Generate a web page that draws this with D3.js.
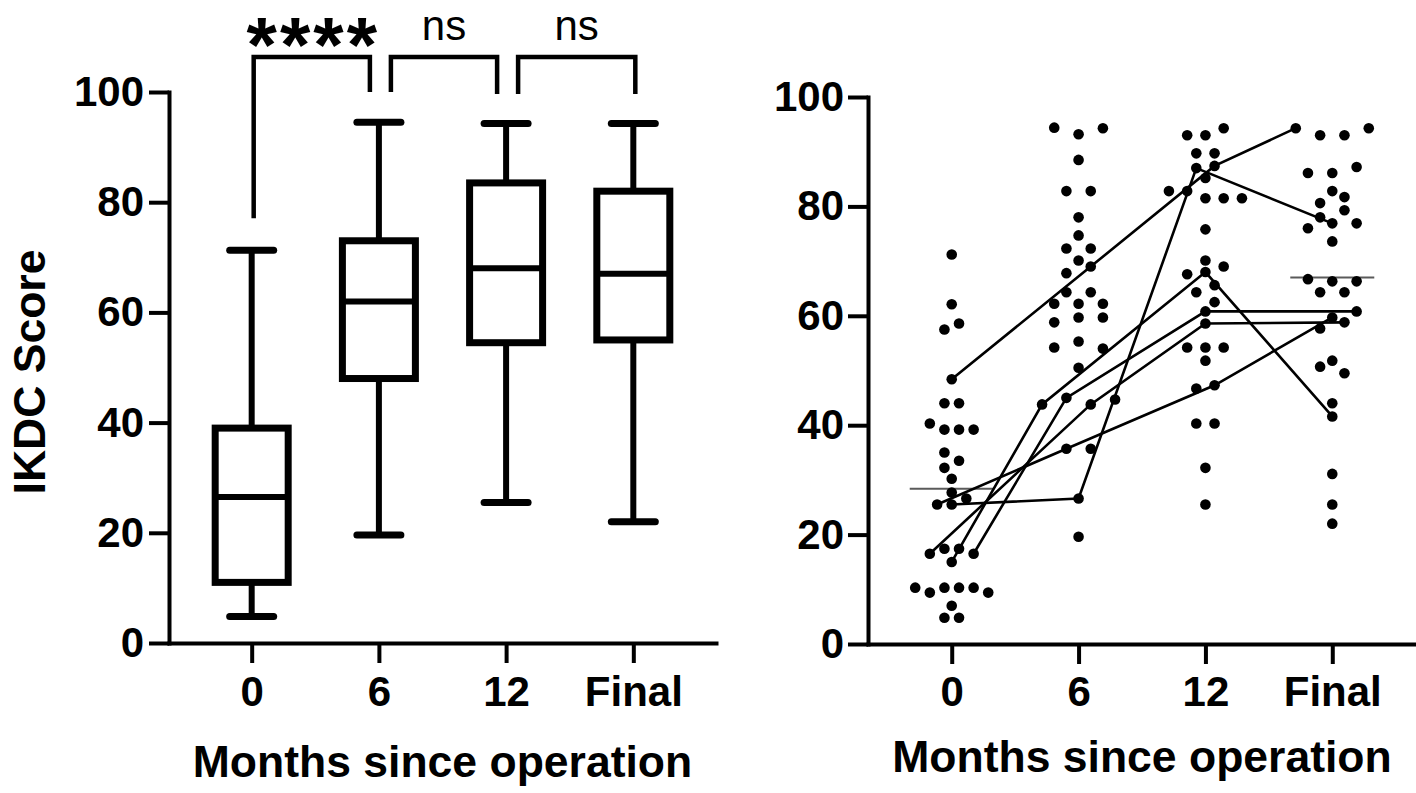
<!DOCTYPE html>
<html><head><meta charset="utf-8">
<script src="https://cdn.jsdelivr.net/npm/d3@7"></script>
<style>
body{margin:0;background:#fff}
svg{display:block;background:#fff}
text{font-family:"Liberation Sans",Arial,Helvetica,sans-serif;fill:#000}
</style>
</head><body>
<svg id="chart" width="1416" height="793"></svg>
<script>
// ---------- data ----------
const categories = ["0", "6", "12", "Final"];
const yTicks = [0, 20, 40, 60, 80, 100];
const xTitle = "Months since operation";
const yTitle = "IKDC Score";

// box plot (left panel): min, quartiles, median, max per category
const boxMin = [4.8, 19.6, 25.5, 22];
const boxQ1 = [11, 48, 54.5, 55];
const boxMedian = [26.5, 62, 68, 67];
const boxQ3 = [39, 73, 83.5, 82];
const boxMax = [71.3, 94.5, 94.3, 94.3];

// significance comparisons
const sigPairs = [["0", "6"], ["6", "12"], ["12", "Final"]];
const sigLabels = ["****", "ns", "ns"];

// individual scores (right panel), one list per time point
const scores0 = [71.2, 62.1, 57.5, 58.6, 48.4, 44, 44, 40.3, 39.2, 39.2, 39.2, 35, 32.2, 33.5, 30.2, 27.7,
  25.5, 25.5, 26.6, 16.5, 17.4, 17.4, 16.5, 15, 10.3, 9.4, 10.3, 10.3, 10.3, 9.4, 7, 4.8, 4.8];
const scores6 = [94.4, 93.2, 94.3, 88.5, 82.8, 82.8, 78, 74.7, 72.3, 72.3, 70.1, 67.8, 69, 64.3, 64.3, 62.2,
  62.2, 62.2, 58.8, 59.7, 59.7, 54.2, 55.3, 54, 50.5, 43.8, 45, 43.8, 44.7, 35.7, 35.7, 26.6, 19.6];
const scores12 = [93, 93, 94.3, 89.7, 89.7, 87, 87.4, 85.2, 82.8, 82.8, 81.5, 81.5, 81.5, 75.8, 70.1, 67.6,
  68, 69, 64.3, 65.6, 62.5, 60.8, 58.6, 54.2, 54.2, 54.2, 51.8, 46.7, 47.3, 40.3, 40.3, 32.2, 25.5];
const scoresFinal = [94.3, 93, 93, 94.3, 86.1, 86.1, 87.2, 82.8, 80.6, 81.7, 78, 79.3, 76, 76.9, 76.9, 73.6,
  66.7, 66.3, 66.3, 64.3, 64.3, 59.7, 60.8, 57.7, 58.8, 51.8, 50.7, 49.5, 44, 41.6, 31.1, 25.5, 22];

// patients followed across all time points (connected lines)
const patientA = [48.4, 69, 87.4, 94.3];
const patientB = [25.5, 35.7, 47.3, 59.7];
const patientC = [25.5, 26.6, 87, 76.9];
const patientD = [15, 43.8, 68, 41.6];
const patientE = [16.5, 43.8, 58.6, 58.8];
const patientF = [16.5, 45, 60.8, 60.8];

// horizontal reference lines in right panel
const refLineCats = ["0", "Final"];
const refLineValues = [28.4, 67];

// ---------- drawing ----------
const svg = d3.select("#chart");
const FONT_TICK = 42, FONT_TITLE = 44.5;

function styleAxis(g) {
  g.select(".domain").attr("stroke", "#000").attr("stroke-width", 4).attr("stroke-linecap", "square");
  g.selectAll(".tick line").attr("stroke", "#000").attr("stroke-width", 4);
  g.selectAll(".tick text").attr("font-size", FONT_TICK).attr("font-weight", "bold")
    .attr("font-family", "'Liberation Sans',Arial,sans-serif").attr("fill", "#000");
}

// ===== Left panel: box plot =====
const yL = d3.scaleLinear().domain([0, 100]).range([643, 92]);
const xL = d3.scalePoint().domain(categories).range([169, 716]).padding(0.65);

const left = svg.append("g");
left.append("g").attr("transform", "translate(169,0)")
  .call(d3.axisLeft(yL).tickValues(yTicks).tickSize(20).tickPadding(5).tickSizeOuter(0))
  .call(styleAxis);
left.append("g").attr("transform", "translate(0,643)")
  .call(d3.axisBottom(xL).tickSize(20).tickPadding(13).tickSizeOuter(0))
  .call(styleAxis);

const boxW = 73, capW = 44;
categories.forEach((c, i) => {
  const cx = xL(c);
  const g = left.append("g").attr("stroke", "#000").attr("fill", "none");
  g.append("line").attr("x1", cx).attr("x2", cx).attr("y1", yL(boxMax[i])).attr("y2", yL(boxQ3[i])).attr("stroke-width", 6);
  g.append("line").attr("x1", cx).attr("x2", cx).attr("y1", yL(boxQ1[i])).attr("y2", yL(boxMin[i])).attr("stroke-width", 6);
  [boxMax[i], boxMin[i]].forEach(v => {
    g.append("line").attr("x1", cx - capW / 2).attr("x2", cx + capW / 2).attr("y1", yL(v)).attr("y2", yL(v))
      .attr("stroke-width", 7).attr("stroke-linecap", "round");
  });
  g.append("rect").attr("x", cx - boxW / 2).attr("width", boxW)
    .attr("y", yL(boxQ3[i])).attr("height", yL(boxQ1[i]) - yL(boxQ3[i]))
    .attr("stroke-width", 7).attr("fill", "#fff");
  g.append("line").attr("x1", cx - boxW / 2).attr("x2", cx + boxW / 2).attr("y1", yL(boxMedian[i])).attr("y2", yL(boxMedian[i]))
    .attr("stroke-width", 6);
});

// significance brackets
const brTop = yL(100) - 35;
sigPairs.forEach((p, i) => {
  const a = categories.indexOf(p[0]), b = categories.indexOf(p[1]);
  const x1 = xL(p[0]) + (a === 0 ? 2 : 12);
  const x2 = xL(p[1]) + (b === categories.length - 1 ? 2 : -9);
  const yLeft = a === 0 ? yL(boxMax[a]) - 32 : yL(100) + (i === 1 ? 0 : 2);
  const yRight = yL(100) + (i === 0 ? 0 : 2);
  left.append("path")
    .attr("d", `M${x1},${yLeft}V${brTop}H${x2}V${yRight}`)
    .attr("fill", "none").attr("stroke", "#000").attr("stroke-width", 4.5).attr("stroke-linejoin", "miter");
  const isStar = sigLabels[i].startsWith("*");
  const fs = isStar ? 78 : 42;
  left.append("text").attr("x", (x1 + x2) / 2 + (isStar ? 1.5 : 0))
    .attr("y", Math.ceil(fs * 0.91) + 1)
    .attr("text-anchor", "middle")
    .attr("font-size", fs).attr("font-weight", isStar ? "bold" : "normal")
    .attr("letter-spacing", isStar ? 3 : 0)
    .text(sigLabels[i]);
});

left.append("text").attr("x", (169 + 716) / 2).attr("y", 777).attr("text-anchor", "middle")
  .attr("font-size", FONT_TITLE).attr("font-weight", "bold").text(xTitle);
left.append("text").attr("transform", "translate(45,372) rotate(-90)").attr("text-anchor", "middle")
  .attr("font-size", FONT_TITLE).attr("font-weight", "bold").text(yTitle);

// ===== Right panel: scatter with connected patients =====
const yR = d3.scaleLinear().domain([0, 100]).range([644, 97]);
const xR = d3.scalePoint().domain(categories).range([868, 1416]).padding(0.66);
const right = svg.append("g");
right.append("g").attr("transform", "translate(868,0)")
  .call(d3.axisLeft(yR).tickValues(yTicks).tickSize(20).tickPadding(4).tickSizeOuter(0))
  .call(styleAxis);
right.append("g").attr("transform", "translate(0,644)")
  .call(d3.axisBottom(xR).tickSize(20).tickPadding(12).tickSizeOuter(0))
  .call(styleAxis);
right.append("text").attr("x", (868 + 1416) / 2).attr("y", 772).attr("text-anchor", "middle")
  .attr("font-size", FONT_TITLE).attr("font-weight", "bold").text(xTitle);

// swarm layout (rows of nearby values, centred, spacing fitted to column width)
const R = 5.3, COL_W = 73, ROW_THR = 1.45, MIN_D = 11;
function swarm(values, cx) {
  const order = values.map((v, i) => i).sort((a, b) => values[a] - values[b] || a - b);
  const rows = [];
  let cur = null;
  order.forEach(i => {
    if (cur && values[i] - values[cur[0]] <= ROW_THR) cur.push(i);
    else { cur = [i]; rows.push(cur); }
  });
  const maxN = d3.max(rows, r => r.length);
  const sp = maxN > 1 ? COL_W / (maxN - 1) : 0;
  const pos = new Array(values.length);
  const placed = [];
  rows.forEach(r => {
    r.sort((a, b) => a - b);
    const n = r.length;
    const base = r.map((_, k) => (k - (n - 1) / 2) * sp);
    const shifts = [0, sp / 2, -sp / 2, sp, -sp];
    let chosen = 0;
    for (const s of shifts) {
      const ok = r.every((idx, k) => placed.every(p => {
        const dx = cx + base[k] + s - p.x, dy = yR(values[idx]) - p.y;
        return Math.hypot(dx, dy) >= MIN_D;
      }));
      if (ok) { chosen = s; break; }
    }
    r.forEach((idx, k) => {
      const pt = { x: cx + base[k] + chosen, y: yR(values[idx]), v: values[idx] };
      pos[idx] = pt; placed.push(pt);
    });
  });
  return pos;
}
const groups = [scores0, scores6, scores12, scoresFinal];
const layouts = groups.map((g, i) => swarm(g, xR(categories[i])));

// reference lines
refLineCats.forEach((c, i) => {
  const cx = xR(c);
  right.append("line").attr("x1", cx - 42).attr("x2", cx + 42)
    .attr("y1", yR(refLineValues[i])).attr("y2", yR(refLineValues[i]))
    .attr("stroke", "#5a5a5a").attr("stroke-width", 2);
});

// patient lines
const used = layouts.map(l => l.map(() => false));
const patients = [patientA, patientB, patientC, patientD, patientE, patientF];
const lineGen = d3.line().x(d => d.x).y(d => d.y);
patients.forEach(pv => {
  const pts = pv.map((v, gi) => {
    let best = -1;
    groups[gi].forEach((gv, k) => {
      if (best < 0 && !used[gi][k] && Math.abs(gv - v) < 0.05) best = k;
    });
    if (best < 0) return { x: xR(categories[gi]), y: yR(v) };
    used[gi][best] = true;
    return layouts[gi][best];
  });
  right.append("path").attr("d", lineGen(pts)).attr("fill", "none")
    .attr("stroke", "#000").attr("stroke-width", 2.6);
});

// dots
layouts.forEach(l => {
  right.append("g").selectAll("circle").data(l).join("circle")
    .attr("cx", d => d.x).attr("cy", d => d.y).attr("r", R).attr("fill", "#000");
});
</script>
</body></html>
